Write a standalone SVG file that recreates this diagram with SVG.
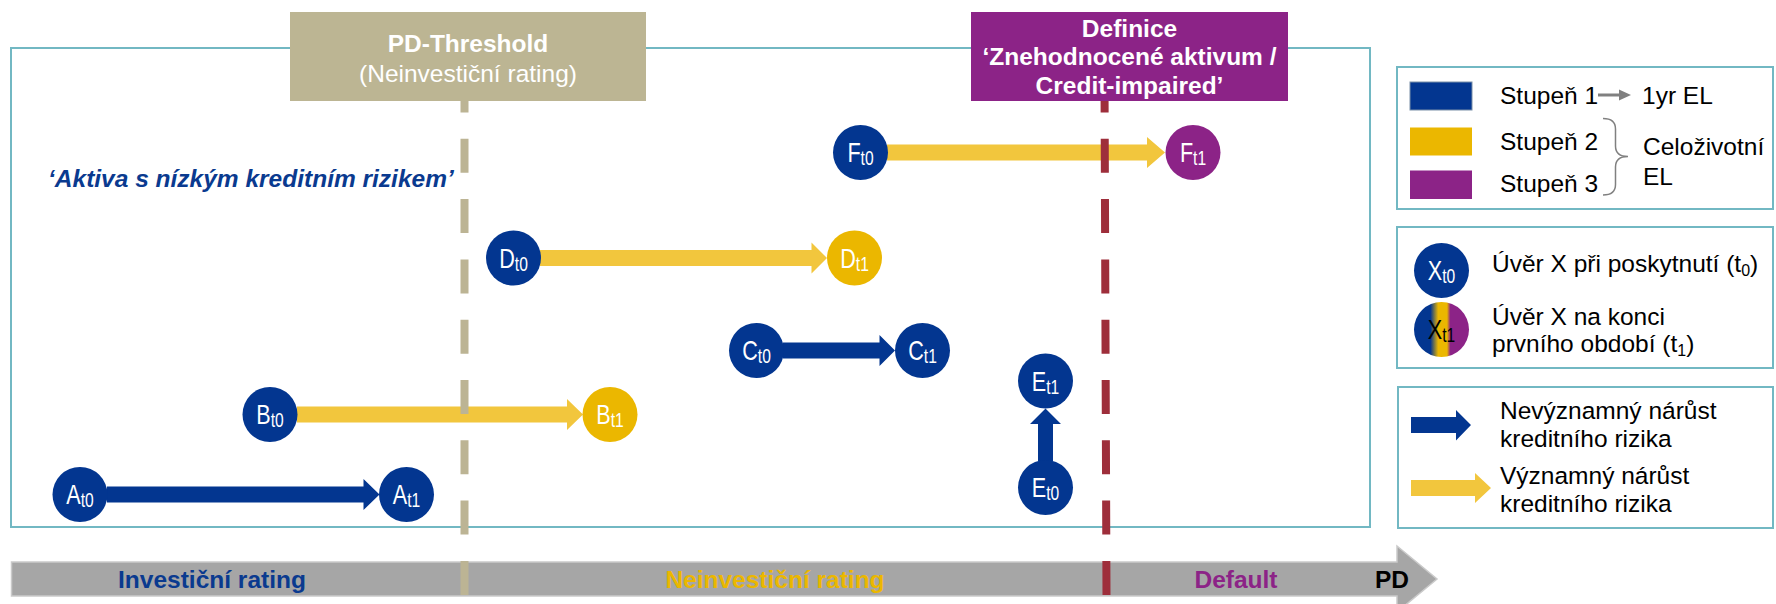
<svg xmlns="http://www.w3.org/2000/svg" width="1776" height="604" viewBox="0 0 1776 604">
<style>
text{font-family:"Liberation Sans",Arial,sans-serif;}
.frame{fill:none;stroke:#72b8c3;stroke-width:2;}
.navy{fill:#033690;}
.gold{fill:#ebb700;}
.purple{fill:#8c2387;}
.ylw{fill:#f2c63d;}
.nl{font-size:27px;fill:#fff;text-anchor:middle;}
.sub{font-size:19.5px;}
.lg{font-size:24.5px;fill:#000;}
.hdr{font-size:24.5px;fill:#fff;text-anchor:middle;font-weight:bold;}
.bar{font-size:24.5px;font-weight:bold;text-anchor:middle;}
</style>
<defs>
<linearGradient id="mix" x1="0" y1="0" x2="1" y2="0">
<stop offset="0" stop-color="#033690"/>
<stop offset="0.3" stop-color="#033690"/>
<stop offset="0.44" stop-color="#ebb700"/>
<stop offset="0.6" stop-color="#ebb700"/>
<stop offset="0.66" stop-color="#8c2387"/>
<stop offset="1" stop-color="#8c2387"/>
</linearGradient>
</defs>

<g id="frame">
<rect class="frame" x="11" y="48" width="1359" height="479"/>
<text x="48" y="187" font-size="24.5" font-weight="bold" font-style="italic" fill="#0a3a8f">‘Aktiva s nízkým kreditním rizikem’</text>
</g>

<g id="pd-axis">
<polygon points="11.5,562 1397,562 1397,546 1437,579 1397,612 1397,596 11.5,596" fill="#a6a6a6" stroke="#cacaca" stroke-width="1.5"/>
<text class="bar" x="212" y="588" fill="#0a3a8f">Investiční rating</text>
<text class="bar" x="775" y="588" fill="#ebb700">Neinvestiční rating</text>
<text class="bar" x="1236" y="588" fill="#8c2387">Default</text>
<text x="1375" y="588" font-size="24.5" font-weight="bold" fill="#000">PD</text>
</g>

<g id="connectors">
<polygon class="navy" points="107,486.5 363.5,486.5 363.5,479 379.5,494.5 363.5,510 363.5,502.5 107,502.5"/>
<polygon class="ylw" points="297,406.5 567,406.5 567,399 583,414.5 567,430 567,422.5 297,422.5"/>
<polygon class="navy" points="783,342.5 879.5,342.5 879.5,335 895,350.5 879.5,366 879.5,358.5 783,358.5"/>
<polygon class="ylw" points="540,250 811.5,250 811.5,242.5 827,258 811.5,273.5 811.5,266 540,266"/>
<polygon class="navy" points="1038,461 1038,424 1030,424 1045.5,408.5 1061,424 1053,424 1053,461"/>
<polygon class="ylw" points="887,144.5 1147,144.5 1147,137 1165,152.5 1147,168 1147,160.5 887,160.5"/>
</g>

<g id="threshold-lines">
<line x1="464.5" y1="78.5" x2="464.5" y2="596" stroke="#bcb494" stroke-width="8" stroke-dasharray="34 26.3"/>
<line x1="1104.5" y1="78.5" x2="1106.5" y2="596" stroke="#9e2e3b" stroke-width="8" stroke-dasharray="34 26.3"/>
</g>

<g id="pd-threshold">
<rect x="290" y="12" width="356" height="89" fill="#bcb593"/>
<text class="hdr" x="468" y="52">PD-Threshold</text>
<text x="468" y="82" font-size="24.5" fill="#fff" text-anchor="middle">(Neinvestiční rating)</text>
</g>

<g id="credit-impaired">
<rect x="971" y="12" width="317" height="89" fill="#8c2387"/>
<text class="hdr" x="1129.5" y="37">Definice</text>
<text class="hdr" x="1129.5" y="65">‘Znehodnocené aktivum /</text>
<text class="hdr" x="1129.5" y="94">Credit-impaired’</text>
</g>

<g id="A_t0"><circle class="navy" cx="80" cy="494.5" r="27.5"/><text class="nl" transform="translate(80,494.5) scale(0.8,1)" x="0" y="9.5">A<tspan class="sub" dy="3">t0</tspan></text></g>
<g id="A_t1"><circle class="navy" cx="406.5" cy="494.5" r="27.5"/><text class="nl" transform="translate(406.5,494.5) scale(0.8,1)" x="0" y="9.5">A<tspan class="sub" dy="3">t1</tspan></text></g>
<g id="B_t0"><circle class="navy" cx="270" cy="414.5" r="27.5"/><text class="nl" transform="translate(270,414.5) scale(0.8,1)" x="0" y="9.5">B<tspan class="sub" dy="3">t0</tspan></text></g>
<g id="B_t1"><circle class="gold" cx="610" cy="414.5" r="27.5"/><text class="nl" transform="translate(610,414.5) scale(0.8,1)" x="0" y="9.5">B<tspan class="sub" dy="3">t1</tspan></text></g>
<g id="C_t0"><circle class="navy" cx="756.5" cy="350.5" r="27.5"/><text class="nl" transform="translate(756.5,350.5) scale(0.8,1)" x="0" y="9.5">C<tspan class="sub" dy="3">t0</tspan></text></g>
<g id="C_t1"><circle class="navy" cx="922.5" cy="350.5" r="27.5"/><text class="nl" transform="translate(922.5,350.5) scale(0.8,1)" x="0" y="9.5">C<tspan class="sub" dy="3">t1</tspan></text></g>
<g id="D_t0"><circle class="navy" cx="513.5" cy="258" r="27.5"/><text class="nl" transform="translate(513.5,258) scale(0.8,1)" x="0" y="9.5">D<tspan class="sub" dy="3">t0</tspan></text></g>
<g id="D_t1"><circle class="gold" cx="854.5" cy="258" r="27.5"/><text class="nl" transform="translate(854.5,258) scale(0.8,1)" x="0" y="9.5">D<tspan class="sub" dy="3">t1</tspan></text></g>
<g id="E_t0"><circle class="navy" cx="1045.5" cy="487.5" r="27.5"/><text class="nl" transform="translate(1045.5,487.5) scale(0.8,1)" x="0" y="9.5">E<tspan class="sub" dy="3">t0</tspan></text></g>
<g id="E_t1"><circle class="navy" cx="1045.5" cy="381" r="27.5"/><text class="nl" transform="translate(1045.5,381) scale(0.8,1)" x="0" y="9.5">E<tspan class="sub" dy="3">t1</tspan></text></g>
<g id="F_t0"><circle class="navy" cx="860.5" cy="152.5" r="27.5"/><text class="nl" transform="translate(860.5,152.5) scale(0.8,1)" x="0" y="9.5">F<tspan class="sub" dy="3">t0</tspan></text></g>
<g id="F_t1"><circle class="purple" cx="1193" cy="152.5" r="27.5"/><text class="nl" transform="translate(1193,152.5) scale(0.8,1)" x="0" y="9.5">F<tspan class="sub" dy="3">t1</tspan></text></g>

<g id="legend-stages">
<rect class="frame" x="1397" y="67" width="376" height="142"/>
<rect x="1410" y="82" width="62" height="28" class="navy" stroke="#7a8fa8" stroke-width="1"/>
<rect x="1410" y="127.5" width="62" height="28" class="gold"/>
<rect x="1410" y="170.5" width="62" height="28.5" class="purple"/>
<text class="lg" x="1500" y="104">Stupeň 1</text>
<line x1="1598" y1="95" x2="1621" y2="95" stroke="#808080" stroke-width="3"/>
<polygon points="1619,89.5 1631,95 1619,100.5" fill="#808080"/>
<text class="lg" x="1642" y="104">1yr EL</text>
<text class="lg" x="1500" y="150">Stupeň 2</text>
<text class="lg" x="1500" y="192">Stupeň 3</text>
<path d="M1603,118.5 Q1615.5,118.5 1615.5,129 L1615.5,146 Q1615.5,156.5 1628,156.5 Q1615.5,156.5 1615.5,167 L1615.5,184.5 Q1615.5,195 1603,195" fill="none" stroke="#808080" stroke-width="1.5"/>
<text class="lg" x="1643" y="155">Celoživotní</text>
<text class="lg" x="1643" y="185">EL</text>
</g>

<g id="legend-loans">
<rect class="frame" x="1397" y="227" width="376" height="141"/>
<circle class="navy" cx="1441.5" cy="270.5" r="27.5"/>
<text class="nl" transform="translate(1441.5,270.5) scale(0.8,1)" x="0" y="9.5">X<tspan class="sub" dy="3">t0</tspan></text>
<text class="lg" x="1492" y="272">Úvěr X při poskytnutí (t<tspan font-size="16" dy="4">0</tspan><tspan dy="-4">)</tspan></text>
<circle cx="1441.5" cy="329.5" r="27.5" fill="url(#mix)"/>
<text class="nl" transform="translate(1441.5,329.5) scale(0.8,1)" x="0" y="9.5" style="fill:#000">X<tspan class="sub" dy="3">t1</tspan></text>
<text class="lg" x="1492" y="325">Úvěr X na konci</text>
<text class="lg" x="1492" y="352">prvního období (t<tspan font-size="16" dy="4">1</tspan><tspan dy="-4">)</tspan></text>
</g>

<g id="legend-arrows">
<rect class="frame" x="1398" y="387" width="375" height="141"/>
<polygon class="navy" points="1411,417 1456,417 1456,410 1471,425 1456,440.5 1456,433 1411,433"/>
<text class="lg" x="1500" y="419">Nevýznamný nárůst</text>
<text class="lg" x="1500" y="447">kreditního rizika</text>
<polygon class="ylw" points="1411,480 1475,480 1475,473 1491,488 1475,503 1475,496 1411,496"/>
<text class="lg" x="1500" y="483.5">Významný nárůst</text>
<text class="lg" x="1500" y="512">kreditního rizika</text>
</g>
</svg>
